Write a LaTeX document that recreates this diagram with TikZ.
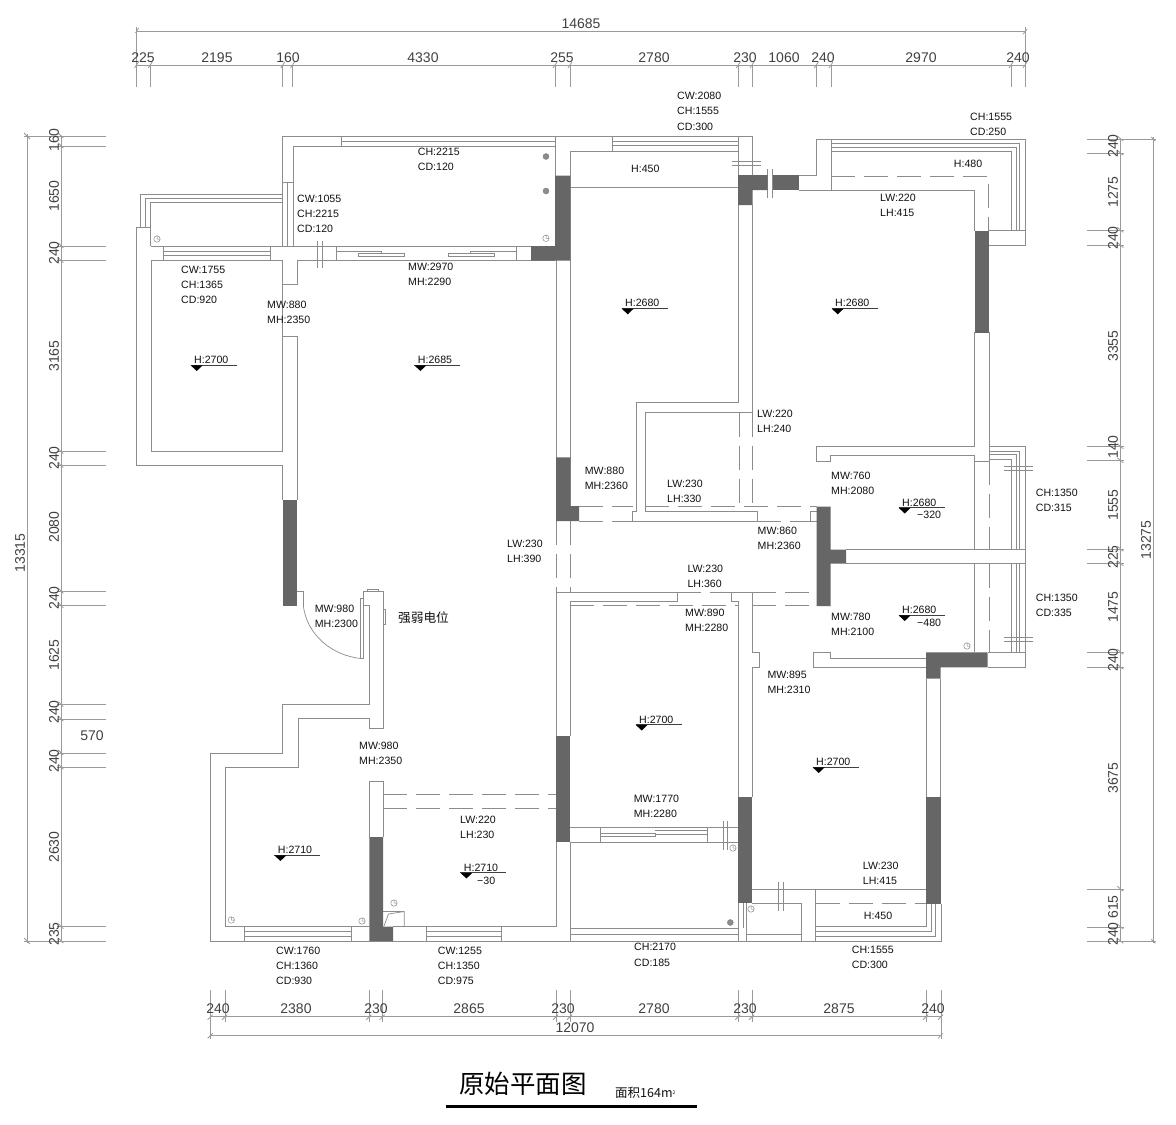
\documentclass[tikz,border=0pt]{standalone}
\usepackage{fontspec}
\setmainfont{Liberation Sans}
\newfontfamily\cjk{Noto Sans CJK SC}
\definecolor{wallc}{HTML}{8C8C8C}
\definecolor{dimc}{HTML}{9A9A9A}
\definecolor{darkw}{HTML}{666666}
\definecolor{txt}{HTML}{111111}
\tikzset{
  wall/.style={draw=wallc,line width=0.9pt,line join=miter},
  thin wall/.style={draw=wallc,line width=0.7pt},
  hid/.style={draw=wallc,line width=0.8pt,dash pattern=on 24pt off 9pt},
  pier/.style={fill=darkw,draw=none},
  dimline/.style={draw=dimc,line width=0.8pt},
  lab/.style={anchor=west,inner sep=0pt,text=txt,font=\fontsize{10.6}{12}\selectfont},
  dimtxt/.style={inner sep=0pt,text=txt!80!white,font=\fontsize{14}{16}\selectfont},
  lvl/.style={draw=black!75,line width=0.7pt},
  dot/.style={fill=wallc,draw=gray,line width=0.4pt}
}
\newcommand{\lb}[3]{\node[lab] at (#1,#2) {#3};}
\newcommand{\level}[4]{% text x, text y, text
  \node[lab] at (#1,#2) {#3};
  \draw[lvl] (#1-3.3,#2+5.3) -- (#1+#4,#2+5.3);
  \fill[black] (#1-3.3,#2+5.3) -- (#1+8.7,#2+5.3) -- (#1+2.7,#2+11) -- cycle;
}
\newcommand{\clk}[2]{\draw[thin wall,line width=0.5pt] (#1,#2) circle (3.2pt) (#1,#2) -- (#1,#2-3.2) (#1,#2) -- (#1+2.8,#2);}
\newcommand{\gdot}[2]{\draw[dot] (#1,#2) circle (3pt);}
\begin{document}
\begin{tikzpicture}[x=1pt,y=-1pt]
\useasboundingbox (0,0) rectangle (1176,1125);
\fill[white] (0,0) rectangle (1176,1125);

%% ---------- dimension chains ----------
% top
\draw[dimline] (136.5,31.7) -- (1025,31.7);
\draw[dimline] (136.5,65) -- (1025,65);
\draw[dimline] (136.5,27) -- (136.5,87) (1025,27) -- (1025,87);
\draw[dimline] (136.5,29) ++(-1,4) -- ++(3,-5);
\draw[dimline] (1025,31.7) ++(-2,2.5) -- ++(4,-5);
\foreach \x in {136.5,150.2,282.8,292.5,555,570,738.3,752,816.3,831,1011,1025}{
  \draw[dimline] (\x,65) -- (\x,87);
  \draw[dimline] (\x,65) ++(-2,3) -- ++(4,-6);
}
% bottom
\draw[dimline] (210.7,1016.7) -- (941,1016.7);
\draw[dimline] (210.7,1035.3) -- (941,1035.3);
\draw[dimline] (210.7,990) -- (210.7,1039) (941,990) -- (941,1039);
\draw[dimline] (210.7,1035.3) ++(-3,3) -- ++(5,-5);
\draw[dimline] (941,1035.3) ++(-3,3) -- ++(5,-5);
\foreach \x in {210.7,225,369.3,382.7,556,570,738.3,752,926,941}{
  \draw[dimline] (\x,990) -- (\x,1022);
  \draw[dimline] (\x,1016.7) ++(-3,3) -- ++(5,-5);
}
% left
\draw[dimline] (61.3,136) -- (61.3,941);
\draw[dimline] (27,134) -- (27,943);
\draw[dimline] (24,136) -- (106,136) (24,941) -- (106,941);
\draw[dimline] (27,136) ++(-3,-3) -- ++(6,6);
\draw[dimline] (27,941) ++(-3,-3) -- ++(6,6);
\foreach \y in {136,146,246,260.7,451.7,465.7,591.3,605.7,704.7,719,753,767.3,926.7,941}{
  \draw[dimline] (57,\y) -- (106,\y);
  \draw[dimline] (61.3,\y) ++(-3,-3) -- ++(5,5);
}
% right
\draw[dimline] (1120.3,139) -- (1120.3,941.3);
\draw[dimline] (1153.3,137) -- (1153.3,943);
\draw[dimline] (1087.3,139) -- (1156,139) (1087.3,941.3) -- (1156,941.3);
\draw[dimline] (1153.3,139) ++(-2,-2) -- ++(4,4);
\draw[dimline] (1153.3,941.3) ++(-2,-2) -- ++(4,4);
\foreach \y in {139,153.3,230.3,245.5,446.7,460.7,549.3,563.7,652.3,667.3,889.3,927,941.3}{
  \draw[dimline] (1087.3,\y) -- (1124,\y);
  \draw[dimline] (1120.3,\y) ++(-3,-3) -- ++(6,5);
}

% dim texts
\foreach \x/\t in {143/225,217/2195,288/160,423/4330,562/255,654/2780,745/230,784/1060,823/240,921/2970,1018/240}{
  \node[dimtxt] at (\x,57.5) {\t};
}
\node[dimtxt] at (581,24) {14685};
\foreach \x/\t in {218/240,296/2380,376/230,469/2865,563/230,654/2780,745/230,839/2875,933/240}{
  \node[dimtxt] at (\x,1009) {\t};
}
\node[dimtxt] at (575,1028) {12070};
\foreach \y/\t in {140/160,196/1650,253/240,356/3165,458/240,527/2080,598/240,655/1625,712/240,761/240,847/2630,934/235}{
  \node[dimtxt,rotate=90] at (54,\y) {\t};
}
\node[dimtxt] at (92,736) {570};
\node[dimtxt,rotate=90] at (20,553) {13315};
\foreach \y/\t in {146/240,192/1275,238/240,346/3355,447/140,505/1555,557/225,607/1475,660/240,778/3675,907/615,934/240}{
  \node[dimtxt,rotate=90] at (1113,\y) {\t};
}
\node[dimtxt,rotate=90] at (1146,540) {13275};

%% ---------- walls : upper left ----------
\draw[wall] (293,246) -- (293,146) -- (555,146);
\draw[wall] (282.8,246) -- (282.8,136) -- (341,136) -- (341,146);
\draw[wall] (341,136) -- (555,136) (341,141.7) -- (555,141.7);
\draw[wall] (282.8,182) -- (293,182) (287.7,182) -- (287.7,246);
\draw[wall] (136.5,465.5) -- (136.5,227.5) -- (150.5,227.5);
\draw[wall] (140.7,227.5) -- (140.7,194) -- (282.8,194);
\draw[wall] (145.3,227.5) -- (145.3,198.7) -- (282.8,198.7);
\draw[wall] (150.5,246) -- (150.5,202.5) -- (282.8,202.5);
\draw[wall] (150.5,246) -- (555,246);
\draw[wall] (136.5,465.5) -- (282.8,465.5) -- (282.8,500);
\draw[wall] (151.5,260.5) rectangle (282.8,451.5);
\draw[wall] (163.5,246) -- (163.5,260.5) (270,246) -- (270,260.5) (163.5,251.5) -- (270,251.5) (163.5,255) -- (270,255);
\draw[wall] (282.8,260.5) -- (282.8,284.7) -- (297.5,284.7) -- (297.5,260.5) -- (555,260.5);
\draw[wall] (282.8,451.5) -- (282.8,336.5) -- (297.5,336.5) -- (297.5,500);
\draw[wall] (317.3,240.5) -- (317.3,268) (322.7,240.5) -- (322.7,268);
\draw[wall] (336.7,246) -- (336.7,260.5) (516.5,246) -- (516.5,260.5);
\draw[thin wall] (336.7,251) -- (381,251) -- (381,253) -- (404,253) -- (404,256) -- (358.3,256) -- (358.3,253) -- (381,253);
\draw[thin wall] (516.5,251) -- (470,251) -- (470,253) -- (448.3,253) -- (448.3,256) -- (494,256) -- (494,253) -- (470,253);
\clk{157}{239}\clk{546}{238.3}\gdot{546}{156.5}\gdot{546}{191}

%% ---------- centre top room ----------
\draw[wall] (555,136) -- (752.5,136) -- (752.5,176);
\draw[wall] (555,136) -- (555,176) (570.3,260) -- (570.3,151.5) -- (612.5,151.5) -- (612.5,136);
\draw[wall] (612.5,141.8) -- (738,141.8) (612.5,145) -- (738,145) (612.5,151.5) -- (738,151.5) (738,136) -- (738,176);
\draw[wall] (731.5,161.3) -- (760.5,161.3) (731.5,165.3) -- (760.5,165.3);
\draw[wall] (570.3,187.3) -- (738,187.3);
\draw[wall] (767.5,169) -- (767.5,197.5) (772.5,169) -- (772.5,197.5);
\draw[wall] (556.3,260) -- (556.3,458) (570.3,260) -- (570.3,506);
\draw[wall] (738,205) -- (738,402.3) -- (636,402.3) -- (636,511) -- (632.7,511) -- (632.7,521) -- (757.3,521) -- (757.3,511) -- (645,511) -- (645,412.5) -- (752.5,412.5);
\draw[wall] (752.5,205) -- (752.5,412.5);
\draw[hid] (739,412.5) -- (739,506);
\draw[hid] (752.5,412.5) -- (752.5,506);

%% ---------- right top room ----------
\draw[wall] (799,175) -- (816.5,175) -- (816.5,139) -- (1025,139) -- (1025,245.5) -- (989,245.5);
\draw[wall] (831,139) -- (831,190);
\draw[wall] (799,190) -- (974.5,190) -- (974.5,230.5);
\draw[wall] (831,143.5) -- (1019.5,143.5) -- (1019.5,230.5);
\draw[wall] (831,147) -- (1016,147) -- (1016,230.5);
\draw[wall] (831,151.5) -- (1011,151.5) -- (1011,230.5);
\draw[wall] (989,230.5) -- (1025,230.5);
\draw[hid] (831,176) -- (988.5,176) -- (988.5,230.5);
\draw[wall] (974.5,332) -- (974.5,446.5) -- (816.5,446.5) -- (816.5,461) -- (830,461) -- (830,455.5) -- (974.5,455.5) -- (974.5,549.5);
\draw[wall] (989,332) -- (989,461) (974.5,461) -- (989,461);

%% ---------- right windows ----------
\draw[wall] (989,446.5) -- (1025,446.5) -- (1025,667.3) -- (988,667.3);
\draw[wall] (989,451) -- (1019.5,451) -- (1019.5,549.5) (1019.5,563.5) -- (1019.5,652.3);
\draw[wall] (989,454.5) -- (1016,454.5) -- (1016,549.5) (1016,563.5) -- (1016,652.3);
\draw[wall] (989,459) -- (1011,459) -- (1011,549.5) (1011,563.5) -- (1011,652.3);
\draw[wall] (1004,466) -- (1033,466) (1004,470.5) -- (1033,470.5);
\draw[wall] (1004,637) -- (1033,637) (1004,641.7) -- (1033,641.7);
\draw[hid] (989,461) -- (989,549.5);
\draw[hid] (989,563.5) -- (989,652.3);
\draw[wall] (846,549.5) -- (1025,549.5) (846,563.5) -- (1025,563.5);
\draw[wall] (974.5,563.5) -- (974.5,652.3);
\draw[wall] (988,652.3) -- (1025,652.3);
\clk{967}{646}
\draw[wall] (926,667.3) -- (813.3,667.3) -- (813.3,652.7) -- (830,652.7) -- (830,658.3) -- (926,658.3);

%% ---------- corridor ----------
\draw[hid] (579,506) -- (632.7,506);
\draw[hid] (579,521) -- (632.7,521);
\draw[hid] (645,506) -- (816.5,506);
\draw[hid] (757.3,521) -- (810,521);
\draw[wall] (810,521) -- (810,511.7) -- (816.5,511.7) (810,521) -- (816.5,521);
\draw[hid] (556.5,521) -- (556.5,592.3);
\draw[hid] (570.3,521) -- (570.3,592.3);
\draw[wall] (556.3,592.3) -- (677,592.3) -- (677,601.7) -- (570.3,601.7) -- (570.3,605.7);
\draw[hid] (570.3,605.7) -- (738.3,605.7);
\draw[hid] (677,592.3) -- (731.3,592.3);
\draw[hid] (752.3,592.3) -- (816.5,592.3);
\draw[hid] (752.3,605.7) -- (816.5,605.7);
\draw[wall] (731.3,592.3) -- (752.3,592.3) (731.3,592.3) -- (731.3,601.7) -- (738.3,601.7) -- (738.3,797.3);
\draw[wall] (752.3,592.3) -- (752.3,652.3) -- (759,652.3) -- (759,667) -- (752.3,667) -- (752.3,797.3);
\draw[wall] (556.3,592.3) -- (556.3,736) (570.3,605.7) -- (570.3,736);

%% ---------- lower rooms ----------
\draw[wall] (570.3,842) -- (570.3,941) (556.3,842) -- (556.3,926.7);
\draw[wall] (570.3,827.3) -- (738.3,827.3) (570.3,842) -- (738.3,842);
\draw[wall] (600.7,827.3) -- (600.7,842) (707.3,827.3) -- (707.3,842);
\draw[thin wall] (600.7,833) -- (655,833) -- (655,836.7) -- (600.7,836.7) (655,830.7) -- (707.3,830.7) (655,834) -- (707.3,834);
\draw[wall] (723,821) -- (723,850) (727.7,821) -- (727.7,850);
\clk{733}{848}\gdot{730.3}{922.5}
\draw[wall] (570.3,928.3) -- (738.3,928.3) (570.3,934.7) -- (738.3,934.7);
\draw[wall] (738.3,903.3) -- (738.3,941) (746,903.3) -- (746,941) (743,903.3) -- (743,928.3);
\draw[wall] (752.3,903.3) -- (801.7,903.3) -- (801.7,941) (746,934.7) -- (801.7,934.7);
\draw[wall] (778.7,882) -- (778.7,911) (783.3,882) -- (783.3,911);
\draw[wall] (752.3,889.3) -- (926,889.3) (815.7,889.3) -- (815.7,941);
\draw[hid] (815.7,903.3) -- (926,903.3);
\draw[wall] (815.7,926.7) -- (926.7,926.7) -- (926.7,904);
\draw[wall] (815.7,931) -- (931,931) -- (931,904);
\draw[wall] (815.7,936) -- (935.7,936) -- (935.7,904);
\draw[wall] (570.3,941) -- (941,941) -- (941,904);
\draw[wall] (926,678.7) -- (926,797.3) (940.7,678.7) -- (940.7,797.3);
\clk{751}{909}

%% ---------- living / lower left ----------
\draw[wall] (297.3,591.3) -- (303.3,591.3) -- (303.3,605.7);
\draw[thin wall] (303.3,605.7) .. controls (307,635) and (332,656) .. (362.5,658.7);
\draw[wall] (363.3,658.7) -- (363.3,591.3) -- (383,591.3) -- (383,728) -- (369.3,728) -- (369.3,718.7) -- (298,718.7) -- (298,767.3) -- (225.3,767.3) -- (225.3,926.7) -- (369.3,926.7);
\draw[wall] (360,658.7) -- (360,598.3) -- (363.3,598.3) (360,658.7) -- (363.3,658.7);
\draw[wall] (363.3,605) -- (369.3,605) -- (369.3,704.3) -- (282.7,704.3) -- (282.7,753.3) -- (210.3,753.3) -- (210.3,941) -- (570.3,941);
\draw[thin wall] (367,591.3) -- (367,589.7) -- (378,589.7) -- (378,591.3) (383,609) -- (385,609) -- (385,624) -- (383,624);
\draw[wall] (369.3,837) -- (369.3,781.7) -- (383,781.7) -- (383,837);
\draw[hid] (383,794.7) -- (556.3,794.7);
\draw[hid] (383,808.7) -- (556.3,808.7);
\draw[wall] (393,926.7) -- (556.3,926.7);
\draw[wall] (244.3,926.7) -- (244.3,941) (351,926.7) -- (351,941) (244.3,931.7) -- (351,931.7) (244.3,936) -- (351,936);
\draw[wall] (426,926.7) -- (426,941) (501.7,926.7) -- (501.7,941) (426,931.7) -- (501.7,931.7) (426,936) -- (501.7,936);
\draw[thin wall] (383,911.5) -- (404.3,911.5) -- (404.3,926.7) (384,926) -- (388.5,914) -- (404.3,911.5);
\clk{394}{903}\clk{231.3}{920}\clk{362}{921}

%% ---------- concrete piers ----------
\fill[pier] (531,246) -- (555,246) -- (555,175.5) -- (570.3,175.5) -- (570.3,260.5) -- (531,260.5) -- cycle;
\fill[pier] (738,175) -- (767.5,175) -- (767.5,190) -- (752.5,190) -- (752.5,205) -- (738,205) -- cycle;
\fill[pier] (772.5,175) rectangle (799,190);
\fill[pier] (974.5,230.5) rectangle (989,332.5);
\fill[pier] (556,457.3) -- (570.3,457.3) -- (570.3,506) -- (579,506) -- (579,521) -- (556,521) -- cycle;
\fill[pier] (816.5,506.5) -- (830.5,506.5) -- (830.5,549.5) -- (846,549.5) -- (846,563.5) -- (830.5,563.5) -- (830.5,606) -- (816.5,606) -- cycle;
\fill[pier] (926,652.3) -- (987.7,652.3) -- (987.7,667.3) -- (940.7,667.3) -- (940.7,678.7) -- (926,678.7) -- cycle;
\fill[pier] (282.7,500) rectangle (297.3,605.7);
\fill[pier] (369.3,837) -- (383,837) -- (383,926.7) -- (393,926.7) -- (393,941) -- (369.3,941) -- cycle;
\fill[pier] (556,736) rectangle (570.3,842);
\fill[pier] (738.3,797.3) rectangle (752.3,903.3);
\fill[pier] (926,797.3) rectangle (940.7,904);

%% ---------- labels ----------
\lb{677}{96}{CW:2080}\lb{677}{111}{CH:1555}\lb{677}{126.5}{CD:300}
\lb{970}{117}{CH:1555}\lb{970}{132}{CD:250}
\lb{417.7}{152}{CH:2215}\lb{417.7}{167}{CD:120}
\lb{297}{199}{CW:1055}\lb{297}{214}{CH:2215}\lb{297}{229}{CD:120}
\lb{181}{270}{CW:1755}\lb{181}{285}{CH:1365}\lb{181}{300}{CD:920}
\lb{267}{305}{MW:880}\lb{267}{320}{MH:2350}
\lb{408}{267}{MW:2970}\lb{408}{282}{MH:2290}
\lb{631}{169}{H:450}\lb{953.7}{164}{H:480}
\lb{880}{198}{LW:220}\lb{880}{213}{LH:415}
\lb{757}{414}{LW:220}\lb{757}{429}{LH:240}
\lb{584.7}{471}{MW:880}\lb{584.7}{486}{MH:2360}
\lb{667}{484}{LW:230}\lb{667}{499}{LH:330}
\lb{831}{475.5}{MW:760}\lb{831}{491}{MH:2080}
\lb{757.5}{531}{MW:860}\lb{757.5}{546}{MH:2360}
\lb{687.3}{569}{LW:230}\lb{687.3}{584}{LH:360}
\lb{507}{544}{LW:230}\lb{507}{559}{LH:390}
\lb{685}{613}{MW:890}\lb{685}{628}{MH:2280}
\lb{831}{617}{MW:780}\lb{831}{632}{MH:2100}
\lb{767.3}{675}{MW:895}\lb{767.3}{690}{MH:2310}
\lb{1035.7}{493}{CH:1350}\lb{1035.7}{508}{CD:315}
\lb{1035.7}{598}{CH:1350}\lb{1035.7}{613}{CD:335}
\lb{314.7}{608.7}{MW:980}\lb{314.7}{624}{MH:2300}
\lb{359}{746}{MW:980}\lb{359}{761}{MH:2350}
\lb{460}{819.5}{LW:220}\lb{460}{835}{LH:230}
\lb{633.7}{799}{MW:1770}\lb{633.7}{814}{MH:2280}
\lb{862.7}{866}{LW:230}\lb{862.7}{881}{LH:415}
\lb{863.7}{916}{H:450}
\lb{634}{947}{CH:2170}\lb{634}{962.5}{CD:185}
\lb{851.7}{950}{CH:1555}\lb{851.7}{965}{CD:300}
\lb{276}{951}{CW:1760}\lb{276}{966}{CH:1360}\lb{276}{981}{CD:930}
\lb{437.7}{951}{CW:1255}\lb{437.7}{966}{CH:1350}\lb{437.7}{981}{CD:975}
\node[inner sep=0pt,text=txt,font=\cjk\fontsize{12.7}{14}\selectfont] at (423.5,617.5) {强弱电位};

\level{194}{360}{H:2700}{42.7}
\level{417.7}{360}{H:2685}{42.7}
\level{625}{303.3}{H:2680}{42.7}
\level{835}{303.3}{H:2680}{42.7}
\level{902}{502.5}{H:2680}{42.7}
\lb{917}{515}{−320}
\level{902}{610}{H:2680}{42.7}
\lb{917}{623}{−480}
\level{639}{719.5}{H:2700}{42.7}
\level{816}{762}{H:2700}{42.7}
\level{277.7}{850}{H:2710}{42.7}
\level{463.7}{867.5}{H:2710}{42.7}
\lb{477}{880.7}{−30}

%% ---------- title ----------
\node[inner sep=0pt,font=\cjk\fontsize{25.5}{28}\selectfont] at (523,1084) {原始平面图};
\node[anchor=west,inner sep=0pt,text=txt,font=\cjk\fontsize{12.5}{14}\selectfont] at (615,1093) {面积164m\raisebox{3.5pt}{\fontsize{5}{5}\selectfont 2}};
\draw[black,line width=2.5pt] (445.7,1106.7) -- (697,1106.7);
\end{tikzpicture}
\end{document}
